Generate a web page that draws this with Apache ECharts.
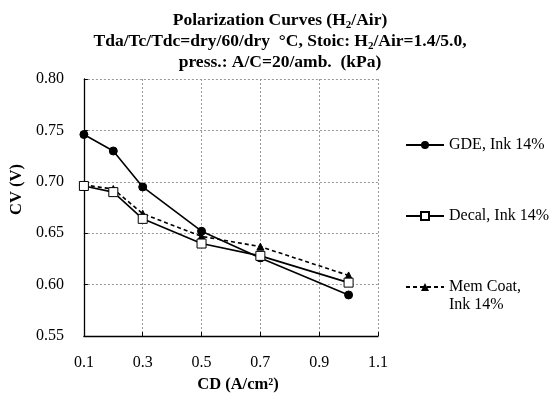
<!DOCTYPE html>
<html><head><meta charset="utf-8">
<script src="https://cdn.jsdelivr.net/npm/echarts@6/dist/echarts.min.js"></script>
<style>html,body{margin:0;padding:0;background:#fff}#c{width:550px;height:398px}</style>
</head><body><div id="c"></div>
<script>
const xValues = [0.1, 0.2, 0.3, 0.5, 0.7, 1.0];
const gdeValues = [0.746, 0.730, 0.695, 0.652, 0.626, 0.590];
const decalValues = [0.696, 0.690, 0.664, 0.640, 0.628, 0.602];
const memValues = [0.697, 0.693, 0.669, 0.647, 0.637, 0.609];
const seriesNames = ['GDE, Ink 14%', 'Decal, Ink 14%', 'Mem Coat, Ink 14%'];
const yTicks = {min: 0.55, max: 0.80, interval: 0.05};
const xTicks = {min: 0.1, max: 1.1, interval: 0.2};

const F = 'Liberation Serif, Times New Roman, serif';
const pair = (xs, ys) => xs.map((x, i) => [x, ys[i]]);
const chart = echarts.init(document.getElementById('c'));
const legendBase = {orient: 'vertical', left: 405, padding: 0, itemWidth: 38, itemHeight: 10, itemGap: 0,
  textStyle: {fontFamily: F, fontSize: 16, color: '#000', lineHeight: 18},
  formatter: n => n === seriesNames[2] ? ' \nMem Coat,\nInk 14%' : n};
chart.setOption({
  animation: false,
  backgroundColor: '#fff',
  title: {
    left: 275, top: 5, textAlign: 'center',
    text: 'Polarization Curves (H{s|2}/Air)\nTda/Tc/Tdc=dry/60/dry  °C, Stoic: H{s|2}/Air=1.4/5.0,\npress.: A/C=20/amb.  (kPa)',
    textStyle: {fontFamily: F, fontSize: 17.5, fontWeight: 'bold', color: '#000', lineHeight: 21,
      rich: {s: {fontFamily: F, fontSize: 11, fontWeight: 'bold', color: '#000', padding: [9, 0, 0, 0]}}}
  },
  legend: [
    Object.assign({}, legendBase, {top: 136, data: [seriesNames[0]]}),
    Object.assign({}, legendBase, {top: 207, data: [seriesNames[1]]}),
    Object.assign({}, legendBase, {top: 260, data: [seriesNames[2]]})
  ],
  grid: {left: 83, right: 172, top: 79, bottom: 59},
  xAxis: {
    type: 'value', min: xTicks.min, max: xTicks.max, interval: xTicks.interval,
    name: 'CD (A/cm²)', nameLocation: 'middle', nameGap: 38,
    nameTextStyle: {fontFamily: F, fontSize: 16.5, fontWeight: 'bold', color: '#000', padding: [0, 0, 0, 14]},
    axisLine: {lineStyle: {color: '#000', width: 1.3}},
    axisTick: {inside: true, length: 4, lineStyle: {color: '#000'}},
    axisLabel: {fontFamily: F, fontSize: 16, color: '#000', margin: 19, formatter: v => v.toFixed(1)},
    splitLine: {show: true, lineStyle: {color: '#999', type: [2, 2], width: 1}}
  },
  yAxis: {
    type: 'value', min: yTicks.min, max: yTicks.max, interval: yTicks.interval,
    name: 'CV (V)', nameLocation: 'middle', nameGap: 54, nameRotate: 90,
    nameTextStyle: {fontFamily: F, fontSize: 16.5, fontWeight: 'bold', color: '#000', padding: [0, 0, 0, 36]},
    axisLine: {show: true, lineStyle: {color: '#000', width: 1.3}},
    axisTick: {show: true, inside: true, length: 4, lineStyle: {color: '#000'}},
    axisLabel: {fontFamily: F, fontSize: 16, color: '#000', margin: 20, formatter: v => v.toFixed(2)},
    splitLine: {show: true, lineStyle: {color: '#999', type: [2, 2], width: 1}}
  },
  series: [
    {name: seriesNames[0], type: 'line', data: pair(xValues, gdeValues), symbol: 'circle', symbolSize: 8,
      lineStyle: {color: '#000', width: 1.6}, itemStyle: {color: '#000', borderColor: '#000'}, z: 2},
    {name: seriesNames[2], type: 'line', data: pair(xValues, memValues), symbol: 'triangle', symbolSize: 7,
      lineStyle: {color: '#000', width: 1.6, type: [4, 3]}, itemStyle: {color: '#000', borderColor: '#000'}, z: 3},
    {name: seriesNames[1], type: 'line', data: pair(xValues, decalValues), symbol: 'rect', symbolSize: 9,
      lineStyle: {color: '#000', width: 1.6}, itemStyle: {color: '#fff', borderColor: '#000', borderWidth: 1}, z: 4}
  ]
});
</script></body></html>
